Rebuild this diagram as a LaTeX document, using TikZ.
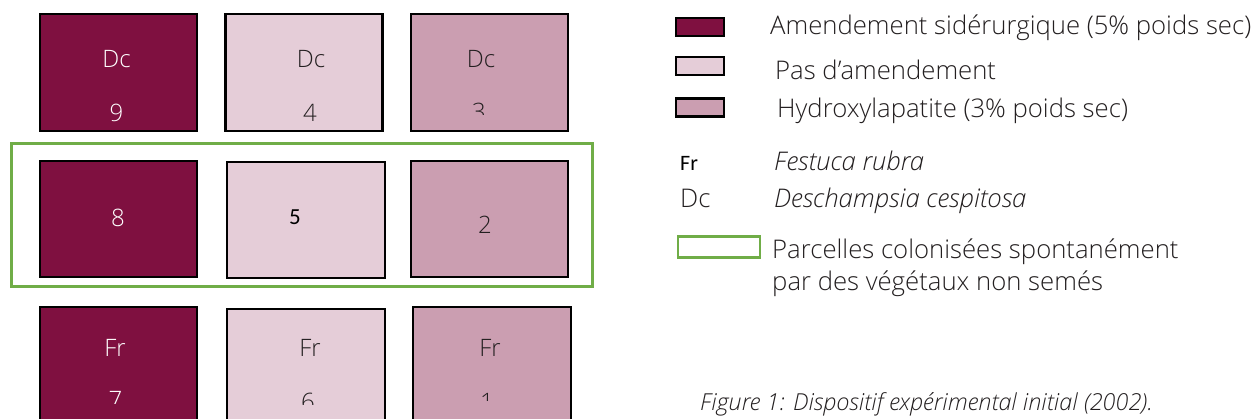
\documentclass[tikz,border=0pt]{standalone}
\usepackage{fontspec}
\IfFontExistsTF{Open Sans Light}{\setmainfont{Open Sans Light}}{\setmainfont{Open Sans}}
\newfontfamily\calib{Carlito}
\definecolor{dark}{HTML}{7F1040}
\definecolor{light}{HTML}{E5CDD8}
\definecolor{mid}{HTML}{CB9EB1}
\definecolor{grn}{HTML}{70AD47}
\definecolor{txt}{HTML}{231F20}
\tikzset{
  plot/.style={draw=black, line width=2.6pt, inner sep=0pt, minimum width=157pt, minimum height=117pt},
  swatch/.style={draw=black, line width=2.4pt, inner sep=0pt, minimum width=48pt, minimum height=18pt},
  boxtxt/.style={inner sep=0pt, anchor=base, font=\fontsize{24}{28}\selectfont},
  cutnum/.style={inner sep=0pt, anchor=north, font=\fontsize{24}{28}\selectfont},
  leg/.style={inner sep=0pt, anchor=base west, text=txt, font=\fontsize{25.7}{30}\selectfont},
}
\begin{document}
\begin{tikzpicture}[x=1pt, y=-1pt]
\clip (0,0) rectangle (1253,419);
\fill[white] (0,0) rectangle (1253,419);
% top row
\node[plot, fill=dark] (b9) at (118.5,72.5) {};
\node[plot, fill=light] (b4) at (304,72.5) {};
\node[plot, fill=mid] (b3) at (489.5,72.5) {};
\node[boxtxt, text=white] (t9a) at (116.5,68) {Dc};
\node[boxtxt, text=txt] (t4a) at (311,68) {Dc};
\node[boxtxt, text=txt] (t3a) at (481,68) {Dc};
\node[boxtxt, text=white] (t9b) at (116.5,122) {9};
\node[boxtxt, text=txt] (t4b) at (310,122) {4};
\begin{scope}
\clip (411,0) rectangle (568,115);
\node[cutnum, text=txt] (t3b) at (479,103) {3};
\end{scope}
% green frame
\node[draw=grn, line width=3pt, inner sep=0pt, minimum width=581pt, minimum height=143pt] (frame) at (301.5,215.5) {};
% middle row
\node[plot, fill=dark, minimum height=116pt] (b8) at (118.5,219) {};
\node[plot, fill=light, minimum height=116pt, minimum width=158pt] (b5) at (306,220) {};
\node[plot, fill=mid, minimum height=116pt] (b2) at (489.5,219) {};
\node[boxtxt, text=white] (t8) at (118,227) {8};
\node[boxtxt, text=black, font=\calib\fontsize{23}{27}\selectfont] (t5) at (295,225) {5};
\node[boxtxt, text=txt] (t2) at (485,234) {2};
% bottom row
\node[plot, fill=dark] (b7) at (118.5,365.5) {};
\node[plot, fill=light, minimum width=158pt] (b6) at (306,367.5) {};
\node[plot, fill=mid, minimum width=158pt] (b1) at (492,365.5) {};
\node[boxtxt, text=white] (t7a) at (115,357) {Fr};
\node[boxtxt, text=txt] (t6a) at (310,357) {Fr};
\node[boxtxt, text=txt] (t1a) at (490,357) {Fr};
\begin{scope}
\clip (0,300) rectangle (200,404);
\node[cutnum, text=white] (t7b) at (115.5,391) {7};
\end{scope}
\begin{scope}
\clip (200,300) rectangle (400,405);
\node[cutnum, text=txt] (t6b) at (308,393) {6};
\end{scope}
\begin{scope}
\clip (413,300) rectangle (571,401);
\node[cutnum, text=txt] (t1b) at (487,393) {1};
\end{scope}
% legend
\node[swatch, fill=dark] (s1) at (700,27) {};
\node[swatch, fill=light] (s2) at (700,66) {};
\node[swatch, fill=mid] (s3) at (700,107.5) {};
\node[leg] (l1) at (770,35) {Amendement sidérurgique (5\% poids sec)};
\node[leg] (l2) at (775,80) {Pas d’amendement};
\node[leg] (l3) at (777,118) {Hydroxylapatite (3\% poids sec)};
\node[leg, text=black, font=\calib\fontsize{22}{26}\selectfont] (lfr) at (680,171) {Fr};
\node[leg] (lfr2) at (774,171) {\itshape Festuca rubra};
\node[leg] (ldc) at (680,208) {Dc};
\node[leg] (ldc2) at (774,208) {\itshape Deschampsia cespitosa};
\node[draw=grn, line width=2.6pt, inner sep=0pt, minimum width=82pt, minimum height=21pt] (sg) at (719,247) {};
\node[leg] (lp1) at (772,259) {Parcelles colonisées spontanément};
\begin{scope}
\clip (700,265) rectangle (1253,297);
\node[leg] (lp2) at (772,291) {par des végétaux non semés};
\end{scope}
\node[leg, font=\itshape\fontsize{23.4}{28}\selectfont] (cap) at (700,410) {Figure 1: Dispositif expérimental initial (2002).};
\end{tikzpicture}
\end{document}
